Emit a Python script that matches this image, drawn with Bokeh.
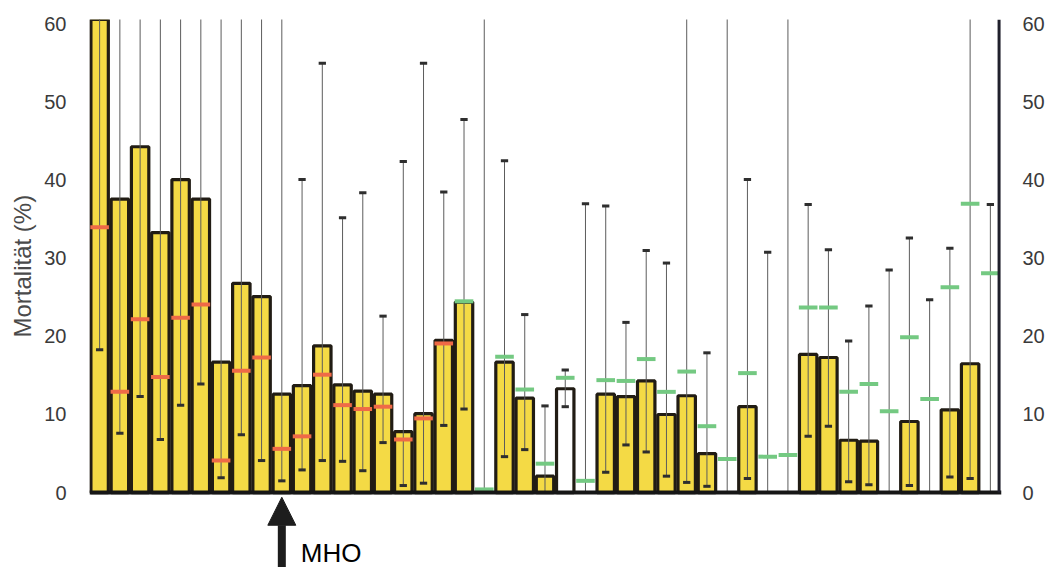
import math
from bokeh.plotting import figure
from bokeh.models import (ColumnDataSource, Range1d, LinearAxis, FixedTicker,
                          Label, Arrow, NormalHead, Title)
from bokeh.embed import file_html
from bokeh.resources import INLINE

# ---------------- data ----------------
positions = list(range(1, 46))

bar_values = [61, 37.6, 44.3, 33.3, 40.1, 37.6, 16.7, 26.8, 25.1, 12.6,
              13.7, 18.8, 13.8, 13.0, 12.6, 7.8, 10.1, 19.5, 24.4, None,
              16.7, 12.1, 2.1, 13.3, None, 12.6, 12.3, 14.3, 10.0, 12.4,
              5.0, None, 11.0, None, None, 17.7, 17.3, 6.7, 6.6, None,
              9.1, None, 10.6, 16.5, None]

point_values = [34.0, 12.9, 22.2, 14.8, 22.4, 24.1, 4.1, 15.6, 17.3, 5.6,
                7.2, 15.1, 11.2, 10.7, 11.0, 6.8, 9.5, 19.1, 24.5, 0.4,
                17.4, 13.2, 3.7, 14.7, 1.5, 14.4, 14.3, 17.1, 12.9, 15.5,
                8.5, 4.3, 15.3, 4.6, 4.8, 23.7, 23.7, 12.9, 13.9, 10.4,
                19.9, 12.0, 26.3, 37.0, 28.1]

lower_values = [18.3, 7.6, 12.3, 6.8, 11.2, 13.9, 1.9, 7.4, 4.1, 1.5,
                2.9, 4.1, 4.0, 2.8, 6.4, 0.9, 1.2, 8.6, 10.7, None,
                4.6, 5.5, None, 11.0, None, 2.6, 6.1, 5.2, 2.1, 1.3,
                0.8, None, 1.8, None, None, 7.2, 8.5, 1.4, 1.0, None,
                0.9, None, 2.0, 1.8, None]

# values above 60 run off the top of the scale
upper_values = [65, 65, 65, 65, 65, 65, 65, 65, 65, 65,
                40.1, 55.0, 35.2, 38.4, 22.6, 42.4, 55.0, 38.5, 47.8, 65,
                42.5, 22.8, 11.1, 15.7, 37.0, 36.7, 21.8, 31.0, 29.4, 65,
                17.9, 65, 40.1, 30.8, 65, 36.9, 31.1, 19.4, 23.9, 28.5,
                32.6, 24.7, 31.3, 65, 36.9]

series = ["A"] * 18 + ["B"] * 27
open_bars = [24]
y_ticks = [0, 10, 20, 30, 40, 50, 60]
mho_position = 10
mho_label = "MHO"
y_title = "Mortalität (%)"

# ---------------- styling ----------------
Y_MIN, Y_MAX = -9.6, 60.6
YELLOW = "#f4da45"
OUTLINE = "#211c14"
SERIES_COLORS = {"A": "#ef6a47", "B": "#74c982"}
FONT = "Liberation Sans"

p = figure(width=1047, height=567, output_backend="svg", toolbar_location=None,
           x_range=Range1d(0.5, 45.55), y_range=Range1d(Y_MIN, Y_MAX),
           min_border_left=89, min_border_right=44, min_border_top=19,
           min_border_bottom=0, x_axis_location=None, y_axis_location=None)
p.outline_line_color = None
p.background_fill_color = "white"
p.border_fill_color = "white"
p.xgrid.visible = False
p.ygrid.visible = False

for side, standoff in (("left", 17), ("right", 15)):
    ax = LinearAxis(ticker=FixedTicker(ticks=y_ticks),
                    axis_line_color=None, major_tick_line_color=None,
                    minor_tick_line_color=None,
                    major_label_standoff=standoff,
                    major_label_text_font_size="20px",
                    major_label_text_font=FONT,
                    major_label_text_color="#3a3a3a")
    p.add_layout(ax, side)

# y-axis title (placed in the left panel, shifted to sit beside the 0-60 scale)
p.add_layout(Title(text=y_title, align="left", offset=230, standoff=12,
                   text_font=FONT, text_font_size="24px",
                   text_font_style="normal", text_color="#4a4a4a"), "left")

# bars
bi = [i for i, v in enumerate(bar_values) if v is not None]
bar_src = ColumnDataSource(dict(
    x=[positions[i] for i in bi],
    top=[bar_values[i] for i in bi],
    fill=["white" if positions[i] in open_bars else YELLOW for i in bi]))
p.vbar(x="x", top="top", bottom=0, width=0.86, fill_color="fill",
       line_color=OUTLINE, line_width=3.2, source=bar_src)

# error lines
err_src = ColumnDataSource(dict(
    x=positions,
    y0=[lv if lv is not None else 0 for lv in lower_values],
    y1=upper_values))
p.segment(x0="x", y0="y0", x1="x", y1="y1", line_color="#5c5c5c",
          line_width=1, source=err_src)

# caps
li = [i for i, v in enumerate(lower_values) if v is not None]
ui = [i for i, v in enumerate(upper_values) if v <= 60]
cap_src = ColumnDataSource(dict(
    x=[positions[i] for i in li] + [positions[i] for i in ui],
    y=[lower_values[i] for i in li] + [upper_values[i] for i in ui]))
p.rect(x="x", y="y", width=0.36, height=3, height_units="screen",
       fill_color="#2e2e2e", line_color=None, source=cap_src)

# point markers
pt_src = ColumnDataSource(dict(
    x=positions, y=point_values,
    c=[SERIES_COLORS[s] for s in series]))
p.rect(x="x", y="y", width=0.92, height=4, height_units="screen",
       fill_color="c", line_color=None, source=pt_src)

# baseline and right axis line
p.segment(x0=[positions[0] - 0.5], y0=[0], x1=[positions[-1] + 0.55], y1=[0],
          line_color="#161616", line_width=4)
p.segment(x0=[positions[-1] + 0.43], y0=[0], x1=[positions[-1] + 0.43],
          y1=[Y_MAX], line_color="#20202c", line_width=3)

# MHO arrow + label
p.add_layout(Arrow(end=NormalHead(size=28, fill_color="#1d1d1d",
                                  line_color="#1d1d1d", line_width=1),
                   x_start=mho_position, y_start=Y_MIN,
                   x_end=mho_position, y_end=-0.6,
                   line_width=8, line_color="#1d1d1d"))
p.add_layout(Label(x=mho_position, y=-5.8, x_offset=19, text=mho_label,
                   text_font=FONT, text_font_size="26px",
                   text_baseline="top", text_color="black"))

open("out.html", "w").write(file_html(p, INLINE))
